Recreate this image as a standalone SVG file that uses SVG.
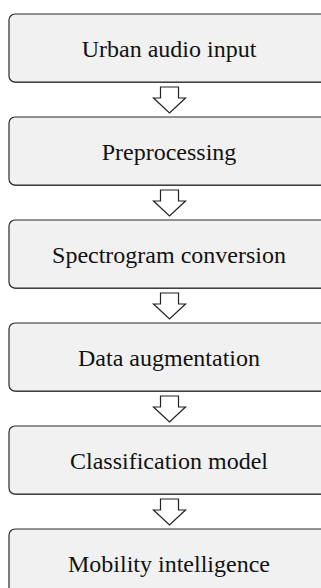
<svg xmlns="http://www.w3.org/2000/svg" width="321" height="588" viewBox="0 0 321 588">
<defs>
<style>
.box{fill:#f1f1f1;stroke:#2a2a2a;stroke-width:1.2}
.sh{fill:#555}
.lbl{font-size:24px;fill:#111;text-anchor:middle}
.arr{fill:#fff;stroke:#222;stroke-width:1.2;stroke-linejoin:miter}
</style>
</defs>
<rect width="321" height="588" fill="#fff"/>
<g id="n1"><rect class="sh" x="10" y="15" width="320" height="68" rx="6"/><rect class="box" x="9" y="14" width="320" height="68" rx="6"/><text class="lbl" font-family="Liberation Serif, serif" x="169" y="57">Urban audio input</text></g>
<g id="n2"><rect class="sh" x="10" y="118" width="320" height="68" rx="6"/><rect class="box" x="9" y="117" width="320" height="68" rx="6"/><text class="lbl" font-family="Liberation Serif, serif" x="169" y="160">Preprocessing</text></g>
<g id="n3"><rect class="sh" x="10" y="221" width="320" height="68" rx="6"/><rect class="box" x="9" y="220" width="320" height="68" rx="6"/><text class="lbl" font-family="Liberation Serif, serif" x="169" y="263">Spectrogram conversion</text></g>
<g id="n4"><rect class="sh" x="10" y="324" width="320" height="68" rx="6"/><rect class="box" x="9" y="323" width="320" height="68" rx="6"/><text class="lbl" font-family="Liberation Serif, serif" x="169" y="366">Data augmentation</text></g>
<g id="n5"><rect class="sh" x="10" y="427" width="320" height="68" rx="6"/><rect class="box" x="9" y="426" width="320" height="68" rx="6"/><text class="lbl" font-family="Liberation Serif, serif" x="169" y="469">Classification model</text></g>
<g id="n6"><rect class="sh" x="10" y="530" width="320" height="68" rx="6"/><rect class="box" x="9" y="529" width="320" height="68" rx="6"/><text class="lbl" font-family="Liberation Serif, serif" x="169" y="572">Mobility intelligence</text></g>
<g id="connectors">
<path class="arr" d="M160.5,87 H178.5 V98 H185.5 L169.5,113 L153.5,98 H160.5 Z"/>
<path class="arr" d="M160.5,190 H178.5 V201 H185.5 L169.5,216 L153.5,201 H160.5 Z"/>
<path class="arr" d="M160.5,293 H178.5 V304 H185.5 L169.5,319 L153.5,304 H160.5 Z"/>
<path class="arr" d="M160.5,396 H178.5 V407 H185.5 L169.5,422 L153.5,407 H160.5 Z"/>
<path class="arr" d="M160.5,499 H178.5 V510 H185.5 L169.5,525 L153.5,510 H160.5 Z"/>
</g>
</svg>
